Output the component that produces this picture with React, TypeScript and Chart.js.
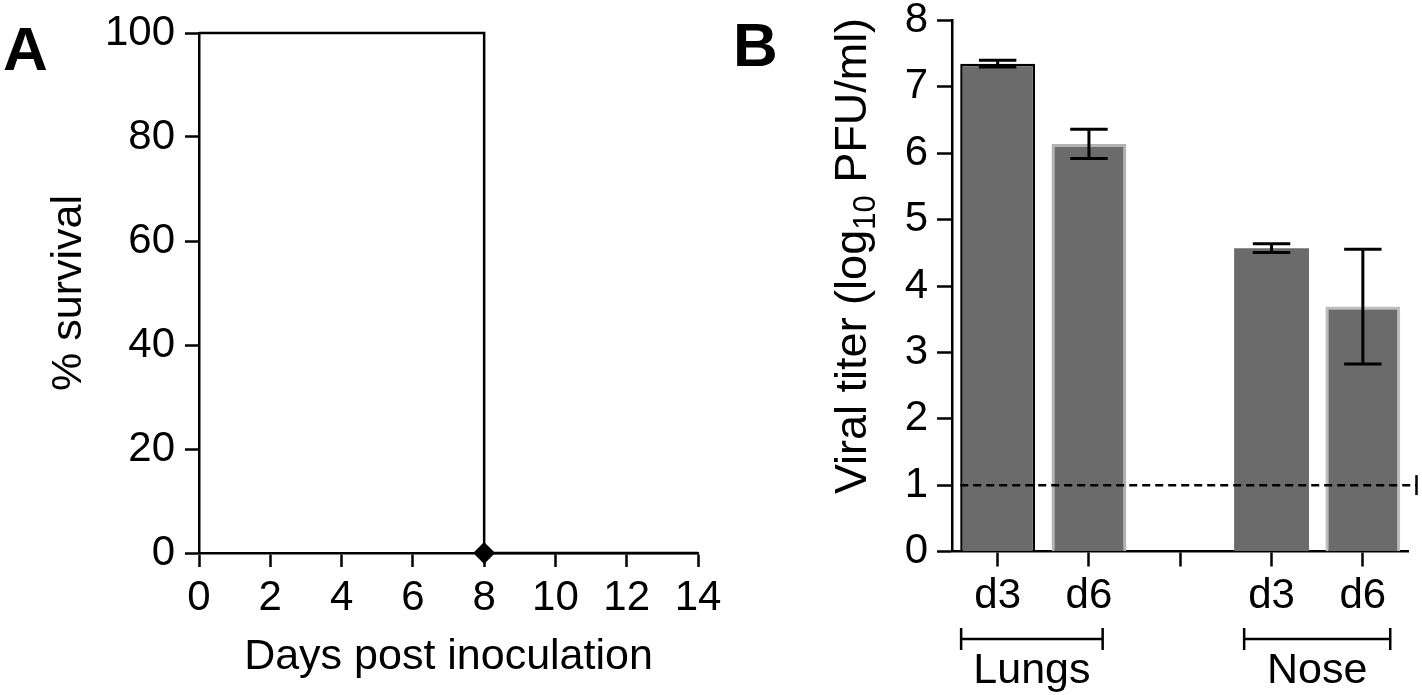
import React, { useEffect, useRef } from 'react';
import { Chart, registerables } from 'chart.js';

Chart.register(...registerables);

const FONT = "'Liberation Sans', Arial, Helvetica, sans-serif";
const W = 1422;
const H = 695;

// ---------- Panel A: survival ----------
const survivalDays = [0, 8, 14];
const survivalPct = [100, 0, 0];
const survivalMarkerRadius = [0, 11, 0];
const survivalXTicks = [0, 2, 4, 6, 8, 10, 12, 14];
const survivalYTicks = [0, 20, 40, 60, 80, 100];

// ---------- Panel B: viral titer ----------
const titerCategories = ['d3', 'd6', '', 'd3', 'd6'];
const titerMeans = [7.35, 6.14, null, 4.57, 3.69];
const titerErrors = [0.05, 0.22, null, 0.065, 0.865];
const titerBorderColors = ['#000000', '#b2b2b2', '#6b6b6b', '#6b6b6b', '#bdbdbd'];
const titerBorderWidths = [2.5, 3, 0, 0, 3];
const titerYTicks = [0, 1, 2, 3, 4, 5, 6, 7, 8];
const detectionLimit = 1;
const groupLabels = ['Lungs', 'Nose'];
const groupStart = [-0.4, 2.7];
const groupEnd = [1.15, 4.3];

const tickFont = { family: FONT, size: 42 };
const titleFont = { family: FONT, size: 43 };

function zeroPad(s: any) {
  s.paddingTop = 0;
  s.paddingBottom = 0;
  s.paddingLeft = 0;
  s.paddingRight = 0;
}

export default function App() {
  const refA = useRef<HTMLCanvasElement>(null);
  const refB = useRef<HTMLCanvasElement>(null);

  useEffect(() => {
    const letterA = {
      id: 'letterA',
      afterDraw(chart: any) {
        const ctx = chart.ctx;
        ctx.save();
        ctx.fillStyle = '#000';
        ctx.font = `bold 62px ${FONT}`;
        ctx.textBaseline = 'alphabetic';
        ctx.textAlign = 'left';
        ctx.fillText('A', 3, 70);
        ctx.restore();
      },
    };

    const chartA = new Chart(refA.current!, {
      type: 'line',
      data: {
        datasets: [
          {
            data: survivalDays.map((d, i) => ({ x: d, y: survivalPct[i] })),
            stepped: true,
            borderColor: '#000',
            borderWidth: 2.5,
            backgroundColor: '#000',
            pointStyle: 'rectRot',
            pointRadius: survivalMarkerRadius,
            pointBackgroundColor: '#000',
            pointBorderColor: '#000',
            pointBorderWidth: 0,
            fill: false,
            clip: false as any,
          } as any,
        ],
      },
      options: {
        responsive: false,
        animation: false,
        devicePixelRatio: 1,
        layout: { padding: { left: 0, top: 33, right: W - 698, bottom: 0 } },
        plugins: { legend: { display: false }, tooltip: { enabled: false } },
        scales: {
          x: {
            type: 'linear',
            min: 0,
            max: 14,
            afterBuildTicks: (s: any) => {
              s.ticks = survivalXTicks.map((v) => ({ value: v }));
            },
            afterFit: (s: any) => {
              s.height = H - 553;
              zeroPad(s);
            },
            ticks: { font: tickFont, color: '#000', padding: 6, maxRotation: 0, autoSkip: false },
            grid: { drawOnChartArea: false, drawTicks: true, tickLength: 14, tickWidth: 2.5, tickColor: '#000' },
            border: { display: true, color: '#000', width: 2.5 },
            title: { display: true, text: 'Days post inoculation', font: titleFont, color: '#000', padding: { top: 0, bottom: 12 } },
          },
          y: {
            type: 'linear',
            min: 0,
            max: 100,
            afterBuildTicks: (s: any) => {
              s.ticks = survivalYTicks.map((v) => ({ value: v }));
            },
            afterFit: (s: any) => {
              s.width = 199;
              zeroPad(s);
            },
            ticks: { font: tickFont, color: '#000', padding: 10, autoSkip: false },
            grid: { drawOnChartArea: false, drawTicks: true, tickLength: 14, tickWidth: 2.5, tickColor: '#000' },
            border: { display: true, color: '#000', width: 2.5 },
            title: { display: true, text: '% survival', font: titleFont, color: '#000', padding: { top: 43, bottom: 0 } },
          },
        },
      },
      plugins: [letterA],
    });

    const decorB = {
      id: 'decorB',
      afterDatasetsDraw(chart: any) {
        const ctx = chart.ctx;
        const ys = chart.scales.y;
        const meta = chart.getDatasetMeta(0);
        const area = chart.chartArea;
        ctx.save();
        // error bars
        ctx.strokeStyle = '#000';
        ctx.lineWidth = 3;
        titerMeans.forEach((m, i) => {
          const e = titerErrors[i];
          if (m == null || e == null) return;
          const bar = meta.data[i];
          const x = bar.x;
          const yt = ys.getPixelForValue(m + e);
          const yb = ys.getPixelForValue(m - e);
          const half = bar.width * 0.25;
          ctx.beginPath();
          ctx.moveTo(x, yt);
          ctx.lineTo(x, yb);
          ctx.moveTo(x - half, yt);
          ctx.lineTo(x + half, yt);
          ctx.moveTo(x - half, yb);
          ctx.lineTo(x + half, yb);
          ctx.stroke();
        });
        // detection limit line
        const yl = ys.getPixelForValue(detectionLimit);
        const first = meta.data[0];
        const xs = first.x - first.width / 2;
        const xe = area.right + 8;
        ctx.lineWidth = 2.5;
        ctx.setLineDash([8, 5]);
        ctx.beginPath();
        ctx.moveTo(xs, yl);
        ctx.lineTo(xe, yl);
        ctx.stroke();
        ctx.setLineDash([]);
        ctx.beginPath();
        ctx.moveTo(xe, yl - 10);
        ctx.lineTo(xe, yl + 10);
        ctx.stroke();
        ctx.restore();
      },
      afterDraw(chart: any) {
        const ctx = chart.ctx;
        const xs = chart.scales.x;
        const area = chart.chartArea;
        ctx.save();
        ctx.fillStyle = '#000';
        ctx.strokeStyle = '#000';
        // panel letter
        ctx.font = `bold 62px ${FONT}`;
        ctx.textBaseline = 'alphabetic';
        ctx.textAlign = 'left';
        ctx.fillText('B', 733, 66);
        // group brackets
        const by = area.bottom + 87.5;
        ctx.lineWidth = 2.5;
        groupLabels.forEach((g, i) => {
          const x0 = xs.getPixelForValue(groupStart[i]);
          const x1 = xs.getPixelForValue(groupEnd[i]);
          ctx.beginPath();
          ctx.moveTo(x0, by);
          ctx.lineTo(x1, by);
          ctx.moveTo(x0, by - 11);
          ctx.lineTo(x0, by + 11);
          ctx.moveTo(x1, by - 11);
          ctx.lineTo(x1, by + 11);
          ctx.stroke();
          ctx.font = `43px ${FONT}`;
          ctx.textAlign = 'center';
          ctx.textBaseline = 'alphabetic';
          ctx.fillText(g, (x0 + x1) / 2, by + 44);
        });
        // y-axis title with subscript
        const big = `45px ${FONT}`;
        const small = `31px ${FONT}`;
        const p1 = 'Viral titer (log';
        const p2 = '10';
        const p3 = ' PFU/ml)';
        ctx.font = big;
        const w1 = ctx.measureText(p1).width;
        const w3 = ctx.measureText(p3).width;
        ctx.font = small;
        const w2 = ctx.measureText(p2).width;
        const total = w1 + w2 + w3;
        const cy = (area.top + area.bottom) / 2 - 30;
        ctx.translate(866, cy);
        ctx.rotate(-Math.PI / 2);
        ctx.textAlign = 'left';
        ctx.textBaseline = 'alphabetic';
        let x = -total / 2;
        ctx.font = big;
        ctx.fillText(p1, x, 0);
        x += w1;
        ctx.font = small;
        ctx.fillText(p2, x, 9);
        x += w2;
        ctx.font = big;
        ctx.fillText(p3, x, 0);
        ctx.restore();
      },
    };

    const chartB = new Chart(refB.current!, {
      type: 'bar',
      data: {
        labels: titerCategories,
        datasets: [
          {
            data: titerMeans as any,
            backgroundColor: '#6b6b6b',
            borderColor: titerBorderColors,
            borderWidth: titerBorderWidths,
            barPercentage: 0.82,
            categoryPercentage: 1,
          },
        ],
      },
      options: {
        responsive: false,
        animation: false,
        devicePixelRatio: 1,
        layout: { padding: { left: 0, top: 20.5, right: W - 1408.5, bottom: 0 } },
        plugins: { legend: { display: false }, tooltip: { enabled: false } },
        scales: {
          x: {
            type: 'category',
            afterFit: (s: any) => {
              s.height = H - 551.5;
              zeroPad(s);
            },
            ticks: { font: tickFont, color: '#000', padding: 5, maxRotation: 0, autoSkip: false },
            grid: { offset: false, drawOnChartArea: false, drawTicks: true, tickLength: 15, tickWidth: 2.5, tickColor: '#000' },
            border: { display: true, color: '#000', width: 2.5 },
          },
          y: {
            type: 'linear',
            min: 0,
            max: 8,
            afterBuildTicks: (s: any) => {
              s.ticks = titerYTicks.map((v) => ({ value: v }));
            },
            afterFit: (s: any) => {
              s.width = 952;
              zeroPad(s);
            },
            ticks: { font: tickFont, color: '#000', padding: 9, autoSkip: false },
            grid: { drawOnChartArea: false, drawTicks: true, tickLength: 15, tickWidth: 2.5, tickColor: '#000' },
            border: { display: true, color: '#000', width: 2.5 },
          },
        },
      },
      plugins: [decorB],
    });

    return () => {
      chartA.destroy();
      chartB.destroy();
    };
  }, []);

  return (
    <div style={{ position: 'fixed', left: 0, top: 0, width: W, height: H, background: '#fff' }}>
      <canvas ref={refA} width={W} height={H} style={{ position: 'absolute', left: 0, top: 0 }} />
      <canvas ref={refB} width={W} height={H} style={{ position: 'absolute', left: 0, top: 0 }} />
    </div>
  );
}
